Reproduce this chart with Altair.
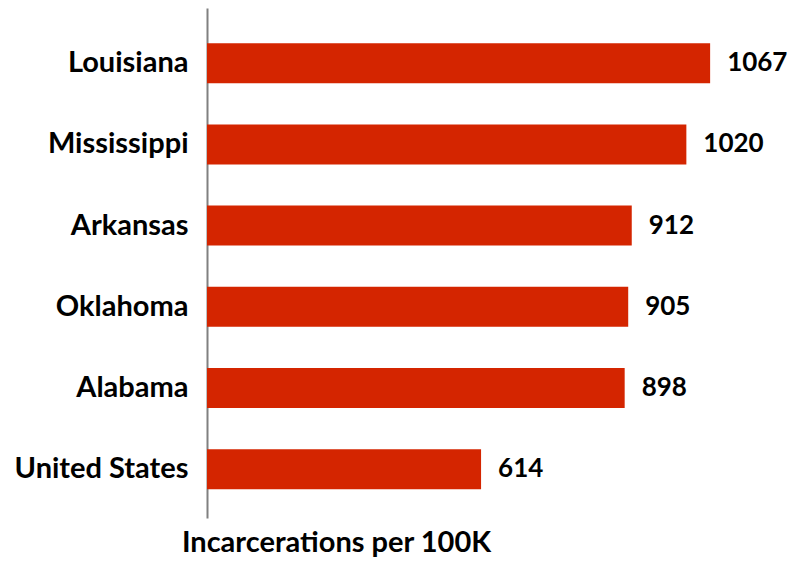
import altair as alt
import pandas as pd

states = ["Louisiana", "Mississippi", "Arkansas", "Oklahoma", "Alabama", "United States"]
rates = [1067, 1020, 912, 905, 898, 614]

df = pd.DataFrame({"state": states, "rate": rates})

FONT = "Lato"
RED = "#D42500"
FS = 29

y_enc = alt.Y(
    "state:N",
    sort=states,
    scale=alt.Scale(paddingInner=0.507, paddingOuter=0.394, align=0.55),
    axis=alt.Axis(
        title=None,
        domain=True,
        domainColor="#808080",
        domainWidth=2,
        ticks=False,
        labelPadding=19,
        labelFont=FONT,
        labelFontSize=FS,
        labelFontWeight="bold",
        labelColor="#000000",
        labelExpr="datum.value == 'Arkansas' ? 'Arkansas\u00a0\u00a0' : datum.value",
    ),
)

x_enc = alt.X(
    "rate:Q",
    scale=alt.Scale(domain=[72, 1221], zero=False, nice=False, clamp=True),
    axis=alt.Axis(
        title="Incarcerations per 100K",
        domain=False,
        ticks=False,
        labels=False,
        grid=False,
        titleFont=FONT,
        titleFontSize=29,
        titleFontWeight="bold",
        titleColor="#000000",
        titleX=129,
        titleY=33,
        titleAlign="center",
        titleBaseline="alphabetic",
    ),
)

bars = alt.Chart(df).mark_bar(color=RED).encode(y=y_enc, x=x_enc)

labels = alt.Chart(df).mark_text(
    align="left", baseline="middle", dx=17, font=FONT, fontSize=26,
    fontWeight="bold", color="#000000"
).encode(y=alt.Y("state:N", sort=states), x=alt.X("rate:Q"), text="rate:Q")

chart = (
    alt.layer(bars, labels)
    .properties(
        width=581,
        height=510,
        autosize=alt.AutoSizeParams(type="none"),
        padding={"left": 199, "top": 0, "right": 0, "bottom": 39},
    )
    .configure_view(stroke=None)
)

chart.save("out.html", embed_options={"renderer": "svg", "actions": False})
